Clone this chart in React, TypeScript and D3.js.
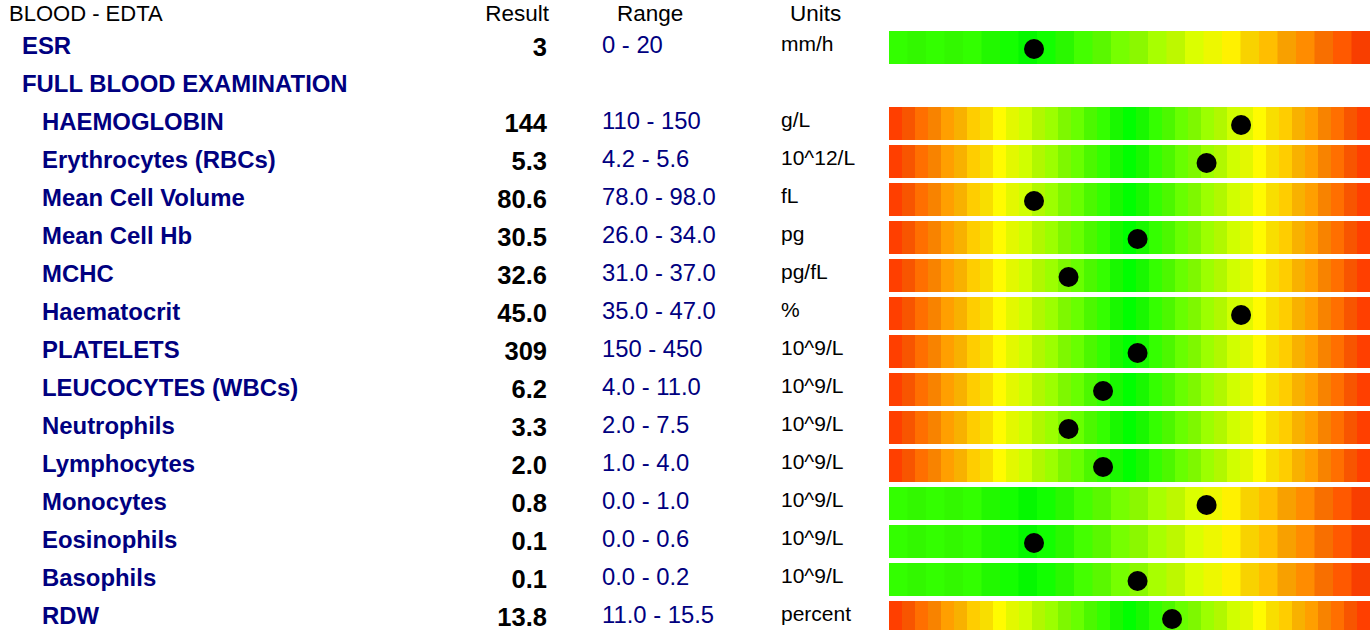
import React, { useEffect, useRef } from 'react';
import * as d3 from 'd3';

// rows of the report, top to bottom
const testNames = [
  'ESR', 'FULL BLOOD EXAMINATION', 'HAEMOGLOBIN', 'Erythrocytes (RBCs)', 'Mean Cell Volume',
  'Mean Cell Hb', 'MCHC', 'Haematocrit', 'PLATELETS', 'LEUCOCYTES (WBCs)', 'Neutrophils',
  'Lymphocytes', 'Monocytes', 'Eosinophils', 'Basophils', 'RDW',
];
const testLevels = [1, 1, 2, 2, 2, 2, 2, 2, 2, 2, 2, 2, 2, 2, 2, 2];
const results = ['3', '', '144', '5.3', '80.6', '30.5', '32.6', '45.0', '309', '6.2', '3.3', '2.0', '0.8', '0.1', '0.1', '13.8'];
const rangeLow = ['0', '', '110', '4.2', '78.0', '26.0', '31.0', '35.0', '150', '4.0', '2.0', '1.0', '0.0', '0.0', '0.0', '11.0'];
const rangeHigh = ['20', '', '150', '5.6', '98.0', '34.0', '37.0', '47.0', '450', '11.0', '7.5', '4.0', '1.0', '0.6', '0.2', '15.5'];
const units = ['mm/h', '', 'g/L', '10^12/L', 'fL', 'pg', 'pg/fL', '%', '10^9/L', '10^9/L', '10^9/L', '10^9/L', '10^9/L', '10^9/L', '10^9/L', 'percent'];

const headers = ['Result', 'Range', 'Units'];

// colour bands of the gauges
const twoSidedStops = [0, 0.115, 0.235, 0.5, 0.765, 0.885, 1];
const twoSidedColors = ['#ff3300', '#ff9900', '#ffff00', '#00ff00', '#ffff00', '#ff9900', '#ff3300'];
const oneSidedStops = [0, 0.17, 0.3, 0.69, 0.845, 1];
const oneSidedColors = ['#33ff00', '#33ff00', '#00ff00', '#ffff00', '#ff9900', '#ff3300'];

// where a result falls inside its range -> marker slot
const dotThresholds = [0.2, 0.29, 0.45, 0.59, 0.7, 0.81];
const dotSlots = [0, 1, 2, 3, 4, 5, 6];

const W = 1370;
const H = 630;

const App = () => {
  const ref = useRef<SVGSVGElement | null>(null);

  useEffect(() => {
    const svg = d3.select(ref.current);
    svg.selectAll('*').remove();

    const font = 'Liberation Sans, Arial, Helvetica, sans-serif';
    const barX0 = 889;
    const barX1 = 1370;
    const pitch = 38;
    const gap = 5;

    const y = d3.scaleBand<number>()
      .domain(d3.range(testNames.length))
      .range([31, 31 + pitch * testNames.length - gap])
      .paddingInner(gap / pitch)
      .paddingOuter(0);

    const bx = d3.scaleLinear().domain([0, 1]).range([barX0, barX1]);

    const twoColor = d3.scaleLinear<string>().domain(twoSidedStops).range(twoSidedColors).interpolate(d3.interpolateRgb);
    const oneColor = d3.scaleLinear<string>().domain(oneSidedStops).range(oneSidedColors).interpolate(d3.interpolateRgb);

    const slotOf = d3.scaleThreshold<number, number>().domain(dotThresholds).range(dotSlots);
    const slotX = d3.scaleLinear().domain([0, 6]).range([bx(0.3015), bx(0.732)]);

    // header
    svg.append('text')
      .attr('x', 9).attr('y', 21)
      .style('font-family', font).style('font-size', '22px').attr('fill', '#000')
      .text('BLOOD - EDTA');
    const headX = [549, 617, 790];
    const headAnchor = ['end', 'start', 'start'];
    headers.forEach((h, i) => {
      svg.append('text')
        .attr('x', headX[i]).attr('y', 21)
        .attr('text-anchor', headAnchor[i])
        .style('font-family', font).style('font-size', '22.5px').attr('fill', '#000')
        .text(h);
    });

    const rows = svg.append('g').selectAll('g')
      .data(d3.range(testNames.length))
      .enter().append('g')
      .attr('transform', (i) => `translate(0,${y(i)})`);

    rows.append('text')
      .attr('x', (i) => (testLevels[i] === 1 ? 22 : 42))
      .attr('y', 23.3)
      .style('font-family', font).style('font-size', '23.9px').style('font-weight', 'bold')
      .attr('fill', '#000080')
      .text((i) => testNames[i]);

    const withResult = rows.filter((i) => results[i] !== '');

    withResult.append('text')
      .attr('x', 547).attr('y', 24.5)
      .attr('text-anchor', 'end')
      .style('font-family', font).style('font-size', '25.5px').style('font-weight', 'bold')
      .attr('fill', '#000')
      .text((i) => results[i]);

    withResult.append('text')
      .attr('x', 602).attr('y', 22.3)
      .style('font-family', font).style('font-size', '23.8px')
      .attr('fill', '#000080')
      .text((i) => `${rangeLow[i]} - ${rangeHigh[i]}`);

    withResult.append('text')
      .attr('x', 781).attr('y', 19.5)
      .style('font-family', font).style('font-size', '21px')
      .attr('fill', '#000')
      .text((i) => units[i]);

    // striped gauge
    withResult.each(function (i) {
      const g = d3.select(this);
      const oneSided = parseFloat(rangeLow[i]) === 0;
      const n = oneSided ? 26 : 37;
      const colorAt = oneSided ? oneColor : twoColor;
      const stripes = d3.range(n);
      g.selectAll('rect.stripe')
        .data(stripes)
        .enter().append('rect')
        .attr('class', 'stripe')
        .attr('x', (k) => bx(k / n))
        .attr('y', 0)
        .attr('width', (k) => bx((k + 1) / n) - bx(k / n) + 0.5)
        .attr('height', y.bandwidth())
        .attr('fill', (k) => {
          const c = d3.color(colorAt((k + 0.5) / n))!;
          return k % 2 === 1 ? c.darker(0.08).formatHex() : c.formatHex();
        });

      const lo = parseFloat(rangeLow[i]);
      const hi = parseFloat(rangeHigh[i]);
      const frac = d3.scaleLinear().domain([lo, hi]).range([0, 1]);
      g.append('circle')
        .attr('cx', slotX(slotOf(frac(parseFloat(results[i])))))
        .attr('cy', 18)
        .attr('r', 10)
        .attr('fill', '#000');
    });
  }, []);

  return (
    <svg
      ref={ref}
      width={W}
      height={H}
      style={{ position: 'absolute', left: 0, top: 0, background: '#fff' }}
    />
  );
};

export default App;
